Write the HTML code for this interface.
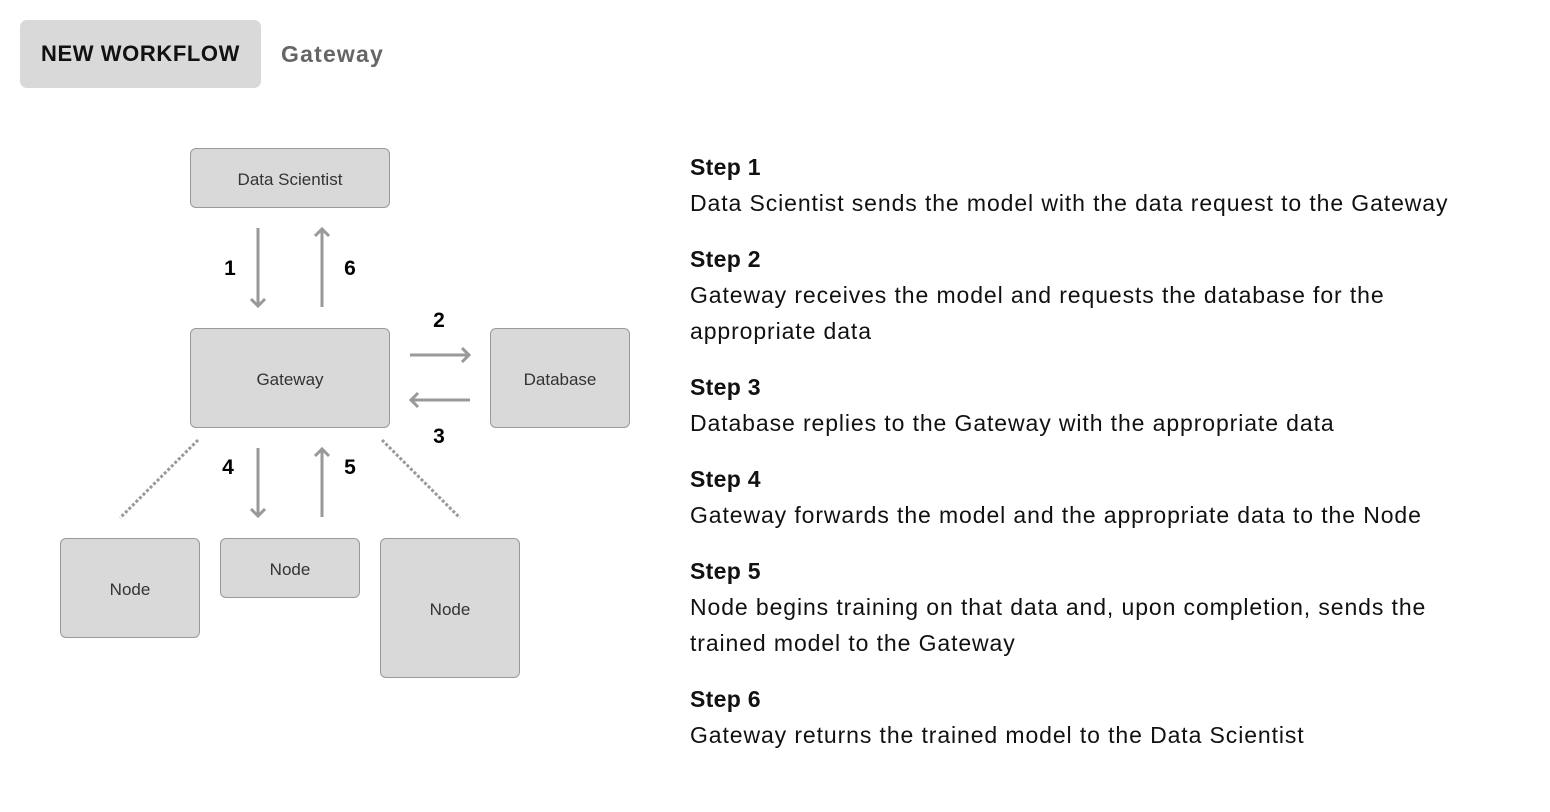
<!DOCTYPE html>
<html><head><meta charset="utf-8"><style>
body{margin:0;width:1550px;height:812px;background:#fff;position:relative;font-family:"Liberation Sans",sans-serif;overflow:hidden}
.b{position:absolute;box-sizing:border-box;background:#d9d9d9;border:1px solid #999;border-radius:6px;display:flex;align-items:center;justify-content:center;font-size:17px;color:#333;padding-top:4px}
.n{position:absolute;font-weight:bold;font-size:21px;color:#000;transform:translate(-50%,-50%)}
.t{position:absolute;left:690px;font-size:23px;letter-spacing:0.9px;color:#111;line-height:36px}
.t b{display:block;letter-spacing:0.3px}
</style></head><body>
<div style="position:absolute;left:20px;top:20px;width:241px;height:68px;background:#d9d9d9;border-radius:7px;display:flex;align-items:center;justify-content:center;font-weight:bold;font-size:22px;letter-spacing:0.6px;color:#111">NEW WORKFLOW</div>
<div style="position:absolute;left:281px;top:41px;font-size:23px;font-weight:bold;color:#666;letter-spacing:1.2px">Gateway</div>

<div class="b" style="left:190px;top:148px;width:200px;height:60px">Data Scientist</div>
<div class="b" style="left:190px;top:328px;width:200px;height:100px">Gateway</div>
<div class="b" style="left:490px;top:328px;width:140px;height:100px">Database</div>
<div class="b" style="left:60px;top:538px;width:140px;height:100px">Node</div>
<div class="b" style="left:220px;top:538px;width:140px;height:60px">Node</div>
<div class="b" style="left:380px;top:538px;width:140px;height:140px">Node</div>

<svg width="1550" height="812" style="position:absolute;left:0;top:0" fill="none" stroke="#999" stroke-width="3">
<path d="M258 228V306M251 299L258 306L265 299"/>
<path d="M322 307V229M315 236L322 229L329 236"/>
<path d="M410 355H469M462 348L469 355L462 362"/>
<path d="M470 400H411M418 393L411 400L418 407"/>
<path d="M258 448V516M251 509L258 516L265 509"/>
<path d="M322 517V449M315 456L322 449L329 456"/>
<path d="M198 440L120 518M382 440L460 518" stroke-dasharray="3 2"/>
</svg>
<div class="n" style="left:230px;top:269px">1</div>
<div class="n" style="left:350px;top:269px">6</div>
<div class="n" style="left:439px;top:321px">2</div>
<div class="n" style="left:439px;top:437px">3</div>
<div class="n" style="left:228px;top:468px">4</div>
<div class="n" style="left:350px;top:468px">5</div>

<div class="t" style="top:149px"><b>Step 1</b>Data Scientist sends the model with the data request to the Gateway</div>
<div class="t" style="top:241px"><b>Step 2</b>Gateway receives the model and requests the database for the<br>appropriate data</div>
<div class="t" style="top:369px"><b>Step 3</b>Database replies to the Gateway with the appropriate data</div>
<div class="t" style="top:461px"><b>Step 4</b>Gateway forwards the model and the appropriate data to the Node</div>
<div class="t" style="top:553px"><b>Step 5</b>Node begins training on that data and, upon completion, sends the<br>trained model to the Gateway</div>
<div class="t" style="top:681px"><b>Step 6</b>Gateway returns the trained model to the Data Scientist</div>
</body></html>
